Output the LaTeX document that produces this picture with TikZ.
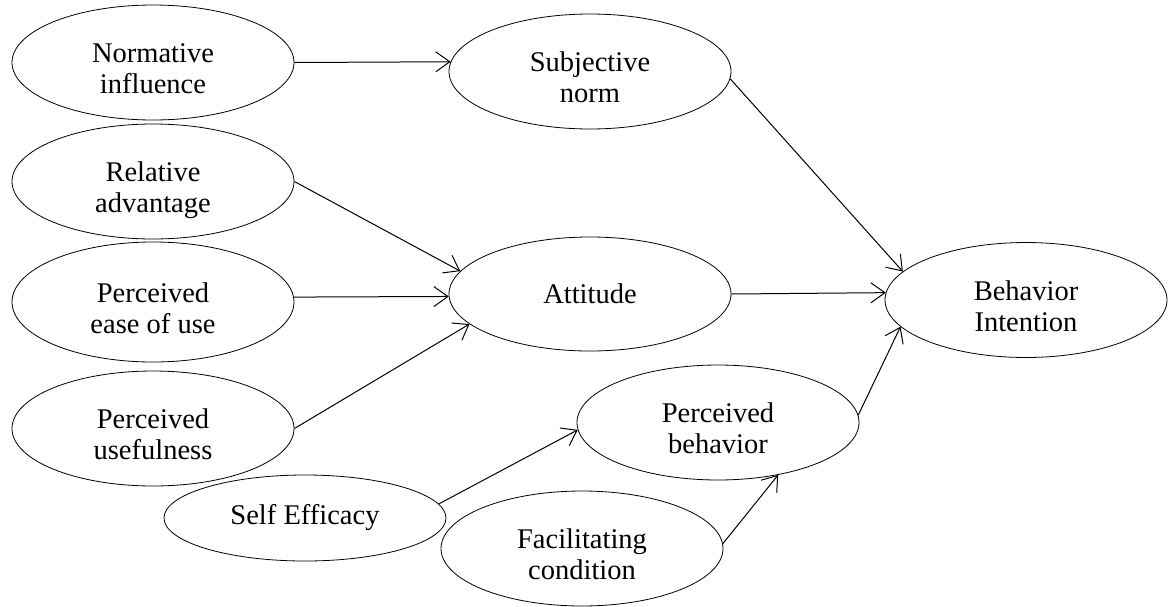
\documentclass[tikz,border=0pt]{standalone}
\usepackage{fontspec}
\setmainfont{Liberation Serif}
\usetikzlibrary{shapes.geometric,arrows.meta}
\newcommand\twoline[2]{\begin{tabular}{@{}c@{}}\rule{0pt}{41pt}#1\\#2\end{tabular}}
\tikzset{
  el/.style={draw, ellipse, line width=0.8pt, inner sep=0pt, minimum width=282pt, minimum height=114pt,
    font=\fontsize{28.5}{31}\selectfont},
  conn/.style={line width=1pt, -{Straight Barb[length=14pt,width=20pt,line width=1pt]}}
}
\begin{document}
\begin{tikzpicture}[x=1pt,y=-1pt]
\useasboundingbox (0,0) rectangle (1168,606);
\node[el] (NI) at (153,62.5) {\twoline{Normative}{influence}};
\node[el] (SN) at (590,71.5) {\twoline{Subjective}{norm}};
\node[el] (RA) at (153,181.5) {\twoline{Relative}{advantage}};
\node[el, minimum height=120pt] (PE) at (153,302) {\twoline{Perceived}{ease of use}};
\node[el] (PU) at (153,428.5) {\twoline{Perceived}{usefulness}};
\node[el] (AT) at (590,294) {Attitude};
\node[el] (BI) at (1026,300) {\twoline{Behavior}{Intention}};
\node[el] (PB) at (718,422.5) {\twoline{Perceived}{behavior}};
\node[el, minimum height=86pt] (SE) at (305,518) {Self Efficacy};
\node[el] (FC) at (582,548.5) {\twoline{Facilitating}{condition}};

\draw[conn] (NI.east) -- (SN.176);
\draw[conn] (RA.east) -- (AT.170);
\draw[conn] (PE.2) -- (AT.181);
\draw[conn] (PU.east) -- (AT.194);
\draw[conn] (SN.-3) -- (BI.167);
\draw[conn] (AT.east) -- (BI.177.5);
\draw[conn] (PB.3) -- (BI.192);
\draw[conn] (SE.6.4) -- (PB.183);
\draw[conn] (FC.2) -- (PB.-41.5);
\end{tikzpicture}
\end{document}
